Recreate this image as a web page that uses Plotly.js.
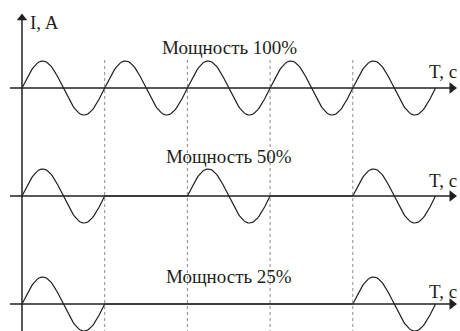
<!DOCTYPE html>
<html>
<head>
<meta charset="utf-8">
<script src="https://cdn.plot.ly/plotly-3.0.1.min.js"></script>
<style>
  html, body { margin: 0; padding: 0; background: #fff; }
  #chart { width: 460px; height: 331px; }
</style>
</head>
<body>
<div id="chart"></div>
<script>
// which periods of the sine are on, for each power level
var rowLabels = ['Мощность 100%', 'Мощность 50%', 'Мощность 25%'];
var rowPatterns = [
  [1, 1, 1, 1, 1],
  [1, 0, 1, 0, 1],
  [1, 0, 0, 0, 1]
];
var rowBaselines = [0, -4, -8];   // amplitude units
var amplitude = 1;
var periodMarks = [1, 2, 3, 4];   // dashed period boundaries
var yAxisLabel = 'I, A';
var xAxisLabel = 'T, c';

// pixel frame (picture is 460 x 331)
var W = 460, H = 331;
var x0px = 22, periodPx = 82.7, base0px = 88, ampPx = 27;
var xRange = [-x0px / periodPx, (W - x0px) / periodPx];
var yRange = [(base0px - H) / ampPx, base0px / ampPx];

var ink = '#231f20';
var traces = [];

// sine waves
var stepsPerPeriod = 60;
rowPatterns.forEach(function (pat, r) {
  var xs = [], ys = [];
  for (var p = 0; p < pat.length; p++) {
    for (var k = 0; k <= stepsPerPeriod; k++) {
      var t = p + k / stepsPerPeriod;
      xs.push(t);
      ys.push(rowBaselines[r] + (pat[p] ? amplitude * Math.sin(2 * Math.PI * k / stepsPerPeriod) : 0));
    }
    xs.push(null); ys.push(null);
  }
  traces.push({
    x: xs, y: ys, type: 'scatter', mode: 'lines',
    line: { color: ink, width: 1.2 }, hoverinfo: 'skip'
  });
});

// dashed period lines
periodMarks.forEach(function (m) {
  traces.push({
    x: [m, m], y: [(base0px - 60) / ampPx, yRange[0]],
    type: 'scatter', mode: 'lines',
    line: { color: '#8a8a8a', width: 1, dash: 'dot' }, hoverinfo: 'skip'
  });
});

// horizontal axes with arrows
var axStart = (10 - x0px) / periodPx;
var axEnd = (452 - x0px) / periodPx;
rowBaselines.forEach(function (b) {
  traces.push({
    x: [axStart, axEnd], y: [b, b], type: 'scatter', mode: 'lines',
    line: { color: ink, width: 1.5 }, hoverinfo: 'skip'
  });
  traces.push({
    x: [axEnd], y: [b], type: 'scatter', mode: 'markers',
    marker: { symbol: 'triangle-right', size: 10, color: ink }, hoverinfo: 'skip'
  });
});

// vertical axis with arrow
var vTop = (base0px - 18) / ampPx;
traces.push({
  x: [0, 0], y: [yRange[0], vTop], type: 'scatter', mode: 'lines',
  line: { color: ink, width: 1.5 }, hoverinfo: 'skip'
});
traces.push({
  x: [0], y: [vTop], type: 'scatter', mode: 'markers',
  marker: { symbol: 'triangle-up', size: 9, color: ink }, hoverinfo: 'skip'
});

function px(x) { return x / W; }
function py(y) { return 1 - y / H; }

var font = { family: '"Liberation Serif", serif', size: 19, color: ink };
var labelY = [47, 157, 276];
var annotations = [];
rowLabels.forEach(function (txt, r) {
  annotations.push({
    text: txt, xref: 'paper', yref: 'paper', x: px(229), y: py(labelY[r]),
    xanchor: 'center', yanchor: 'middle', showarrow: false, font: font
  });
});
var tLabelY = [71, 180, 291];
tLabelY.forEach(function (y) {
  annotations.push({
    text: xAxisLabel, xref: 'paper', yref: 'paper', x: px(459), y: py(y),
    xanchor: 'right', yanchor: 'middle', showarrow: false, font: font
  });
});
annotations.push({
  text: yAxisLabel, xref: 'paper', yref: 'paper', x: px(28), y: py(23),
  xanchor: 'left', yanchor: 'middle', showarrow: false, font: font
});

var layout = {
  width: W, height: H,
  margin: { l: 0, r: 0, t: 0, b: 0 },
  paper_bgcolor: '#fff', plot_bgcolor: '#fff',
  showlegend: false,
  xaxis: { range: xRange, visible: false, fixedrange: true },
  yaxis: { range: yRange, visible: false, fixedrange: true },
  annotations: annotations
};

Plotly.newPlot('chart', traces, layout, { staticPlot: true });
</script>
</body>
</html>
